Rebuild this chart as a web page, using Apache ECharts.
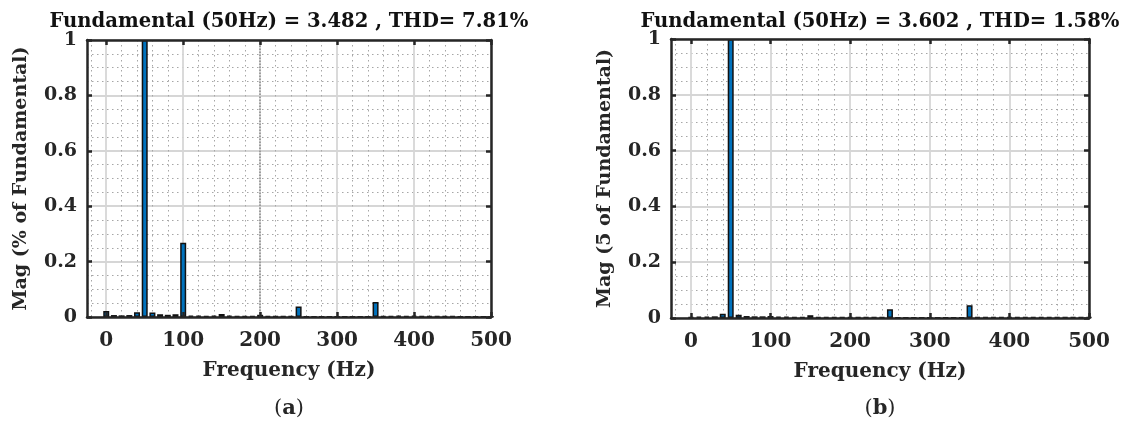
<!DOCTYPE html>
<html lang="en">
<head>
    <meta charset="UTF-8">
    <script src="https://cdn.jsdelivr.net/npm/echarts@6.0.0/dist/echarts.min.js"></script>
    <style>
        html, body { margin: 0; padding: 0; background: #fff; }
    </style>
</head>
<body>
<div style="width: 1130px;height: 430px" id="chart"></div>

<script>
    // harmonic spectrum bins (Hz)
    var freqs = [0, 10, 20, 30, 40, 50, 60, 70, 80, 90,
        100, 110, 120, 130, 140, 150, 160, 170, 180, 190,
        200, 210, 220, 230, 240, 250, 260, 270, 280, 290,
        300, 310, 320, 330, 340, 350, 360, 370, 380, 390,
        400, 410, 420, 430, 440, 450, 460, 470, 480, 490, 500]
    // (a) THD 7.81%
    var magA = [0.022, 0.007, 0.006, 0.007, 0.017, 1, 0.016, 0.010, 0.008, 0.010,
        0.268, 0.005, 0.005, 0.004, 0.005, 0.011, 0.005, 0.004, 0.004, 0.004,
        0.008, 0.004, 0.003, 0.003, 0.003, 0.038, 0.002, 0.002, 0.002, 0.002,
        0.002, 0.002, 0.002, 0.002, 0.002, 0.054, 0.004, 0.004, 0.005, 0.004,
        0.005, 0.004, 0.004, 0.004, 0.004, 0.004, 0.002, 0.002, 0.002, 0.002, 0.002]
    // (b) THD 1.58%
    var magB = [0.003, 0.005, 0.005, 0.006, 0.015, 1, 0.012, 0.007, 0.006, 0.006,
        0.007, 0.005, 0.005, 0.004, 0.004, 0.010, 0.004, 0.004, 0.004, 0.003,
        0.004, 0.003, 0.003, 0.003, 0.003, 0.031, 0.002, 0.002, 0.002, 0.002,
        0.002, 0.002, 0.002, 0.002, 0.002, 0.046, 0.004, 0.004, 0.004, 0.004,
        0.004, 0.004, 0.004, 0.004, 0.004, 0.004, 0.003, 0.003, 0.003, 0.003, 0.003]

    var xTicks = [0, 100, 200, 300, 400, 500]
    var titles = ['Fundamental (50Hz) = 3.482 , THD= 7.81%', 'Fundamental (50Hz) = 3.602 , THD= 1.58%']
    var yNames = ['Mag (% of Fundamental)', 'Mag (5 of Fundamental)']
    var captions = ['a', 'b']
    var markA = [200]

    // minor grid every 20 Hz between the major ticks
    var xMinor = []
    for (var v = -20; v <= 500; v += 20) {
        if (v % 100 !== 0) xMinor.push(v)
    }

    var font = 'DejaVu Serif'
    var ink = '#262626'
    var frameLine = {show: true, onZero: false, lineStyle: {color: ink, width: 2.5}}
    var grids = [
        {left: 87, top: 40, width: 404, height: 277},
        {left: 671, top: 39, width: 418, height: 279}
    ]

    var xAxes = [], yAxes = [], series = [], graphic = []
    grids.forEach(function (g, i) {
        var base = {gridIndex: i, type: 'value', min: -25, max: 500}
        // frame bottom with labels
        xAxes.push(Object.assign({}, base, {
            z: 5,
            name: 'Frequency (Hz)', nameLocation: 'middle', nameGap: 44,
            nameTextStyle: {fontFamily: font, fontWeight: 'bold', fontSize: 20, color: ink},
            axisLine: frameLine,
            axisTick: {show: true, inside: true, length: 5, customValues: xTicks, lineStyle: {color: ink, width: 2.5}},
            axisLabel: {customValues: xTicks, margin: 14, fontFamily: font, fontWeight: 'bold', fontSize: 20, color: ink},
            splitLine: {show: false}
        }))
        // frame top
        xAxes.push(Object.assign({}, base, {
            z: 5, position: 'top',
            axisLine: frameLine,
            axisTick: {show: true, inside: true, length: 5, customValues: xTicks, lineStyle: {color: ink, width: 2.5}},
            axisLabel: {show: false},
            splitLine: {show: false}
        }))
        // major grid
        xAxes.push(Object.assign({}, base, {
            z: 0,
            axisLine: {show: false},
            axisTick: {show: false, customValues: xTicks},
            axisLabel: {show: false},
            splitLine: {show: true, lineStyle: {color: '#d6d6d6', width: 1.8}}
        }))
        // minor grid
        xAxes.push(Object.assign({}, base, {
            z: 0,
            axisLine: {show: false},
            axisTick: {show: false, customValues: xMinor},
            axisLabel: {show: false},
            splitLine: {show: true, lineStyle: {color: '#a6a6a6', width: 1, type: [1.5, 3.5]}}
        }))

        var ybase = {gridIndex: i, type: 'value', min: 0, max: 1, interval: 0.2}
        yAxes.push(Object.assign({}, ybase, {
            z: 5,
            name: yNames[i], nameLocation: 'middle', nameGap: 56,
            nameTextStyle: {fontFamily: font, fontWeight: 'bold', fontSize: 19, color: ink},
            axisLine: frameLine,
            axisTick: {show: true, inside: true, length: 5, lineStyle: {color: ink, width: 2.5}},
            axisLabel: {margin: 10, fontFamily: font, fontWeight: 'bold', fontSize: 19, color: ink},
            splitLine: {show: false}
        }))
        yAxes.push(Object.assign({}, ybase, {
            z: 5, position: 'right',
            axisLine: frameLine,
            axisTick: {show: true, inside: true, length: 5, lineStyle: {color: ink, width: 2.5}},
            axisLabel: {show: false},
            splitLine: {show: false}
        }))
        yAxes.push(Object.assign({}, ybase, {
            z: 0,
            axisLine: {show: false},
            axisTick: {show: false},
            axisLabel: {show: false},
            splitLine: {show: true, lineStyle: {color: '#d6d6d6', width: 1.8}},
            minorTick: {show: false, splitNumber: 4},
            minorSplitLine: {show: true, lineStyle: {color: '#a6a6a6', width: 1, type: [1.5, 3.5]}}
        }))

        var mags = i === 0 ? magA : magB
        var s = {
            type: 'bar',
            xAxisIndex: i * 4,
            yAxisIndex: i * 3,
            barWidth: 6,
            z: 2,
            itemStyle: {color: '#0072BD', borderColor: '#111', borderWidth: 1.5},
            data: freqs.map(function (f, k) { return [f, mags[k]] })
        }
        if (i === 0) {
            s.markLine = {
                silent: true, symbol: 'none', label: {show: false},
                lineStyle: {color: '#8a8a8a', type: 'dotted', width: 1.5},
                data: markA.map(function (m) { return {xAxis: m} })
            }
        }
        series.push(s)

        var cx = g.left + g.width / 2
        graphic.push({
            type: 'text', x: cx, y: 22,
            style: {text: titles[i], font: 'bold 19.6px "DejaVu Serif"', fill: '#111', align: 'center', verticalAlign: 'middle'}
        })
        graphic.push({
            type: 'text', x: cx, y: 409,
            style: {
                text: '{p|(}{b|' + captions[i] + '}{p|)}', align: 'center', verticalAlign: 'middle',
                rich: {
                    p: {fontFamily: font, fontSize: 21, fill: ink, fontWeight: 'normal'},
                    b: {fontFamily: font, fontSize: 21, fill: ink, fontWeight: 'bold'}
                }
            }
        })
    })

    var myChart = echarts.init(document.getElementById('chart'))
    var option = {
        animation: false,
        grid: grids,
        xAxis: xAxes,
        yAxis: yAxes,
        series: series,
        graphic: graphic
    }
    option && myChart.setOption(option)
</script>
</body>
</html>
